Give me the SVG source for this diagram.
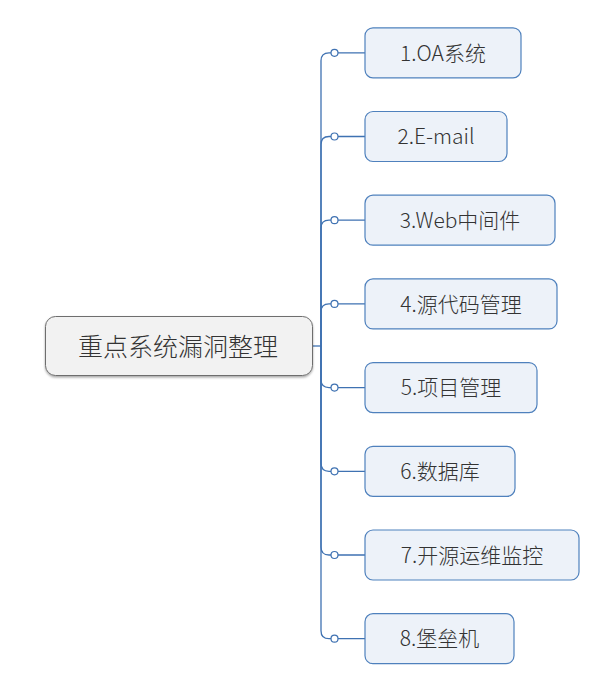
<svg xmlns="http://www.w3.org/2000/svg" width="610" height="689" viewBox="0 0 610 689">
  <defs>
    <filter id="shadow" x="-5%" y="-10%" width="110%" height="130%">
      <feDropShadow dx="0" dy="1.5" stdDeviation="0.8" flood-color="#000" flood-opacity="0.35"/>
    </filter>
  </defs>
  <style>
    .root rect { fill: #f2f2f2; stroke: #6e6e6e; stroke-width: 1; }
    .root text { font-family: "Noto Sans CJK SC", "Microsoft YaHei", sans-serif; font-size: 25px; font-weight: 300; fill: #333; text-anchor: middle; dominant-baseline: central; }
    .topic rect { fill: #edf2f9; stroke: #4f81bd; stroke-width: 1.2; }
    .topic text { font-family: "Noto Sans CJK SC", "Microsoft YaHei", sans-serif; font-size: 21px; font-weight: 300; fill: #333; text-anchor: middle; dominant-baseline: central; }
    .links path { fill: none; stroke: #3f72b2; stroke-width: 1.3; }
    .links circle { fill: #fff; stroke: #3f72b2; stroke-width: 1.2; }
  </style>

  <!-- connectors: trunk at x=321, curved elbows into each branch -->
  <g id="connectors" class="links">
    <path d="M313,346 H321"/>
    <path d="M321,346 V60.8 Q321,52.8 329,52.8 H365"/>
    <path d="M321,346 V144.5 Q321,136.5 329,136.5 H365"/>
    <path d="M321,346 V228.2 Q321,220.2 329,220.2 H365"/>
    <path d="M321,346 V311.9 Q321,303.9 329,303.9 H365"/>
    <path d="M321,346 V379.6 Q321,387.6 329,387.6 H365"/>
    <path d="M321,346 V463.3 Q321,471.3 329,471.3 H365"/>
    <path d="M321,346 V547 Q321,555 329,555 H365"/>
    <path d="M321,346 V630.7 Q321,638.7 329,638.7 H365"/>
    <circle cx="334.5" cy="52.8" r="3.5"/>
    <circle cx="334.5" cy="136.5" r="3.5"/>
    <circle cx="334.5" cy="220.2" r="3.5"/>
    <circle cx="334.5" cy="303.9" r="3.5"/>
    <circle cx="334.5" cy="387.6" r="3.5"/>
    <circle cx="334.5" cy="471.3" r="3.5"/>
    <circle cx="334.5" cy="555" r="3.5"/>
    <circle cx="334.5" cy="638.7" r="3.5"/>
  </g>

  <g id="root" class="root">
    <rect x="45.5" y="316.5" width="267" height="59" rx="10" filter="url(#shadow)"/>
    <text x="178" y="344.5">重点系统漏洞整理</text>
  </g>

  <g id="n1" class="topic">
    <rect x="365" y="27.8" width="156" height="50" rx="8"/>
    <text x="443" y="51.5">1.OA系统</text>
  </g>
  <g id="n2" class="topic">
    <rect x="365" y="111.5" width="142" height="50" rx="8"/>
    <text x="436" y="135.2">2.E-mail</text>
  </g>
  <g id="n3" class="topic">
    <rect x="365" y="195.2" width="190" height="50" rx="8"/>
    <text x="460" y="218.9">3.Web中间件</text>
  </g>
  <g id="n4" class="topic">
    <rect x="365" y="278.9" width="192" height="50" rx="8"/>
    <text x="461" y="302.6">4.源代码管理</text>
  </g>
  <g id="n5" class="topic">
    <rect x="365" y="362.6" width="172" height="50" rx="8"/>
    <text x="451" y="386.3">5.项目管理</text>
  </g>
  <g id="n6" class="topic">
    <rect x="365" y="446.3" width="150" height="50" rx="8"/>
    <text x="440" y="470">6.数据库</text>
  </g>
  <g id="n7" class="topic">
    <rect x="365" y="530" width="214" height="50" rx="8"/>
    <text x="472" y="553.7">7.开源运维监控</text>
  </g>
  <g id="n8" class="topic">
    <rect x="365" y="613.7" width="149" height="50" rx="8"/>
    <text x="439.5" y="637.4">8.堡垒机</text>
  </g>
</svg>
